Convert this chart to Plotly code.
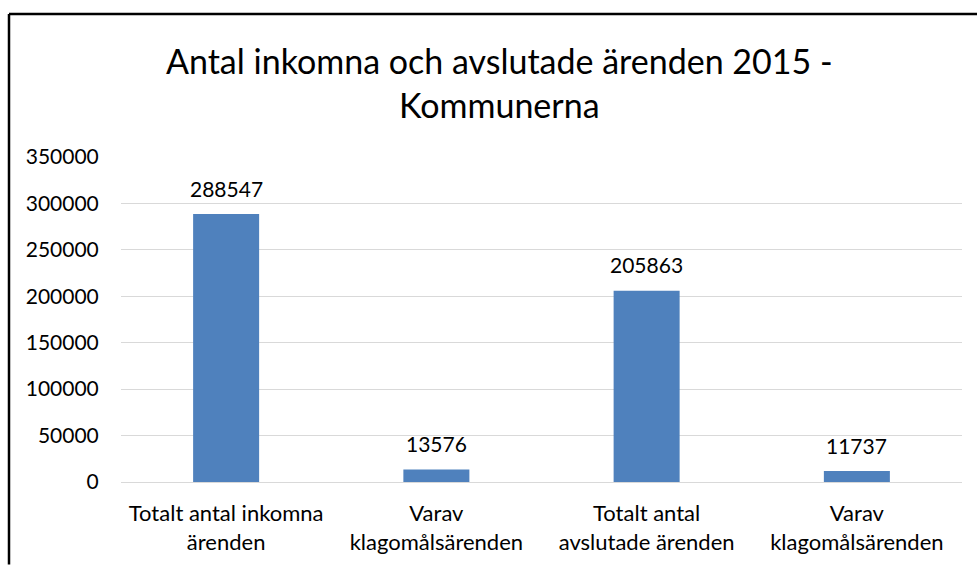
import plotly.graph_objects as go

categories = ["Totalt antal inkomna<br>ärenden", "Varav<br>klagomålsärenden",
              "Totalt antal<br>avslutade ärenden", "Varav<br>klagomålsärenden"]
values = [288547, 13576, 205863, 11737]
tick_vals = [0, 50000, 100000, 150000, 200000, 250000, 300000, 350000]
title_text = "Antal inkomna och avslutade ärenden 2015 -<br>Kommunerna"

FONT = "Lato"
W, H = 978, 567
L, R, T, B = 121, 16, 157, 83
pw, ph = W - L - R, H - T - B

def px(x):
    return (x - L) / pw

def py(y):
    return (H - B - y) / ph

xs = list(range(len(categories)))

fig = go.Figure(go.Bar(
    x=xs, y=values,
    marker=dict(color="#4f81bd", line=dict(width=0)),
    hoverinfo="skip",
))

fig.update_layout(
    width=W, height=H,
    margin=dict(l=L, r=R, t=T, b=B),
    paper_bgcolor="white", plot_bgcolor="white",
    bargap=0.686, showlegend=False,
    font=dict(family=FONT, size=21, color="#000000"),
    xaxis=dict(tickmode="array", tickvals=xs, ticktext=categories,
               showgrid=False, zeroline=False, showline=False,
               ticks="outside", ticklen=12, tickcolor="rgba(0,0,0,0)",
               range=[-0.5, 3.5], tickfont=dict(family=FONT, size=22)),
    yaxis=dict(tickmode="array", tickvals=tick_vals, ticktext=[str(v) for v in tick_vals],
               range=[0, 350000], showgrid=True, gridcolor="#d9d9d9", gridwidth=1,
               zeroline=True, zerolinecolor="#d9d9d9", zerolinewidth=1,
               showline=False, ticks="outside", ticklen=17, tickcolor="rgba(0,0,0,0)",
               tickfont=dict(family=FONT, size=21)),
    annotations=[dict(text=title_text, xref="paper", yref="paper",
                      x=px(499), y=py(82), xanchor="center", yanchor="middle",
                      showarrow=False, font=dict(family=FONT, size=34, color="#000000"))]
    + [dict(x=x, y=v, text=str(v), xref="x", yref="y", showarrow=False,
            yanchor="middle", yshift=26, font=dict(family=FONT, size=21, color="#000000"))
       for x, v in zip(xs, values)],
    shapes=[
        dict(type="line", xref="paper", yref="paper", x0=px(9), x1=px(9), y0=py(13), y1=py(567),
             line=dict(color="black", width=2.5)),
        dict(type="line", xref="paper", yref="paper", x0=px(9), x1=px(977), y0=py(13), y1=py(13),
             line=dict(color="black", width=2.5)),
    ],
)

fig.write_html("out.html", config={"displayModeBar": False},
               post_script="document.documentElement.style.overflow='hidden';document.body.style.margin='0';document.body.style.padding='0';document.body.style.overflow='hidden';")
